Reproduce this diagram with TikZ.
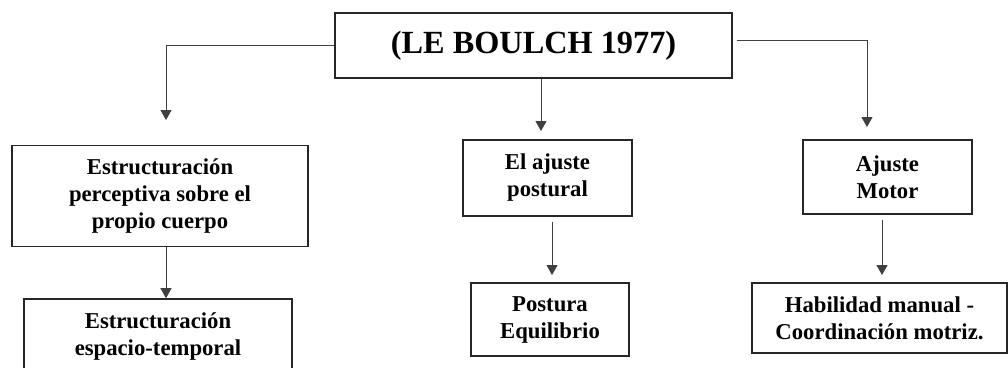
\documentclass[tikz,border=0pt]{standalone}
\usepackage{fontspec}
\setmainfont{Liberation Serif}
\usetikzlibrary{arrows.meta}
\begin{document}
\begin{tikzpicture}[x=1pt,y=-1pt,
  box/.style={draw=black!85,line width=1.6pt,rectangle,align=center,inner sep=0pt,
    font=\fontsize{22.7}{27}\selectfont\bfseries},
  conn/.style={draw=black!75,line width=0.9pt,-{Triangle[width=11pt,length=10pt]}}]
\useasboundingbox (0,0) rectangle (1008,367);
\clip (0,0) rectangle (1008,367);
\node[box,minimum width=397pt,minimum height=65pt,font=\fontsize{32.3}{36}\selectfont\bfseries] (top) at (533.5,45.5) {(LE BOULCH 1977)};
\node[box,minimum width=296pt,minimum height=101pt] (l1) at (160,196) {Estructuración\\perceptiva sobre el\\propio cuerpo};
\node[box,minimum width=268pt,minimum height=76pt] (l2) at (158,337) {Estructuración\\espacio-temporal};
\node[box,minimum width=169pt,minimum height=76pt] (m1) at (547.5,178) {El ajuste\\postural};
\node[box,minimum width=158pt,minimum height=73pt] (m2) at (550,319.5) {Postura\\Equilibrio};
\node[box,minimum width=169pt,minimum height=74pt] (r1) at (887.5,177) {Ajuste\\Motor};
\node[box,minimum width=255pt,minimum height=70pt] (r2) at (879.5,318) {Habilidad manual -\\Coordinación motriz.};
\coordinate (ta) at (166,120);
\coordinate (tb0) at (737,40);
\coordinate (tb) at (867,127);
\coordinate (tc) at (541,131);
\coordinate (ma0) at (552,222);
\coordinate (ma) at (552,275);
\coordinate (ra0) at (882,220);
\coordinate (ra) at (882,275);
\draw[conn] (top.west) -| (ta);
\draw[conn] (tb0) -| (tb);
\draw[conn] (top.south -| tc) -- (tc);
\draw[conn] (l1.south -| ta) -- (l2.north -| ta);
\draw[conn] (ma0) -- (ma);
\draw[conn] (ra0) -- (ra);
\end{tikzpicture}
\end{document}
